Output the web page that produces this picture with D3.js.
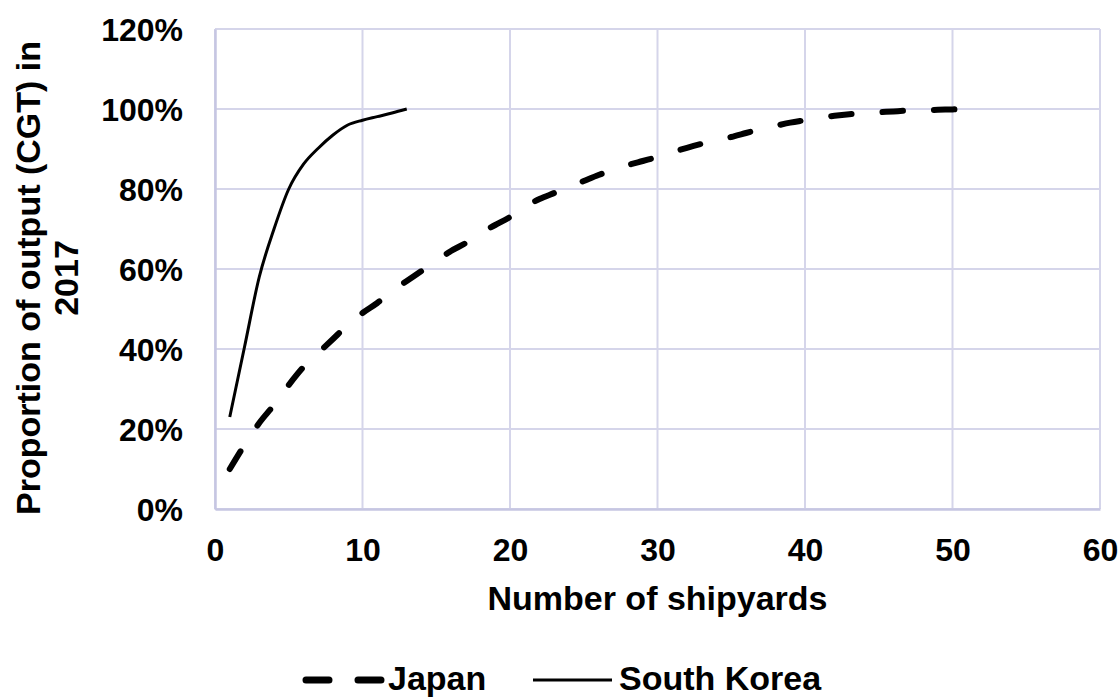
<!DOCTYPE html>
<html>
<head>
<meta charset="utf-8">
<script src="https://cdn.jsdelivr.net/npm/d3@7"></script>
<style>
  html, body { margin: 0; padding: 0; background: #ffffff; }
  svg { display: block; }
  text { font-family: "Liberation Sans", Arial, sans-serif; font-weight: bold; fill: #000; }
</style>
</head>
<body>
<svg id="chart" width="1120" height="697"></svg>
<script>
// ---- data ----
const koreaX = [1, 2, 3, 4, 5, 6, 7, 8, 9, 10, 11, 12, 13];
const koreaY = [0.23, 0.405, 0.58, 0.70, 0.80, 0.862, 0.902, 0.935, 0.96, 0.972, 0.981, 0.99, 1.00];

const japanX = [1, 2, 3, 4, 5, 6, 7, 8, 9, 10, 11, 12, 13, 14, 15, 16, 17, 18, 19, 20,
                21, 22, 23, 24, 25, 26, 27, 28, 29, 30, 31, 32, 33, 34, 35, 36, 37, 38, 39, 40,
                41, 42, 43, 44, 45, 46, 47, 48, 49, 50, 51];
const japanY = [0.10, 0.16, 0.215, 0.26, 0.31, 0.355, 0.39, 0.425, 0.46, 0.49, 0.515, 0.545, 0.57, 0.595, 0.62, 0.645, 0.665, 0.69, 0.71, 0.73,
                0.755, 0.775, 0.79, 0.805, 0.82, 0.835, 0.848, 0.86, 0.87, 0.88, 0.892, 0.903, 0.913, 0.922, 0.93, 0.94, 0.95, 0.958, 0.966, 0.972,
                0.978, 0.983, 0.987, 0.99, 0.992, 0.994, 0.996, 0.997, 0.998, 0.999, 1.00];

const xTicks = [0, 10, 20, 30, 40, 50, 60];
const yTicks = [0, 0.2, 0.4, 0.6, 0.8, 1.0, 1.2];
const seriesNames = ["Japan", "South Korea"];
const xTitle = "Number of shipyards";
const yTitleLines = ["Proportion of output (CGT) in", "2017"];

// ---- layout ----
const svg = d3.select("#chart");
const mLeft = 215, mRight = 1100, mTop = 29, mBottom = 509;
const x = d3.scaleLinear().domain([0, 60]).range([mLeft, mRight]);
const y = d3.scaleLinear().domain([0, 1.2]).range([mBottom, mTop]);
const gridColor = "#d5d5ea";

// grid
const grid = svg.append("g");
grid.selectAll("line.v").data(xTicks).join("line")
  .attr("x1", d => x(d)).attr("x2", d => x(d))
  .attr("y1", mTop).attr("y2", mBottom)
  .attr("stroke", gridColor).attr("stroke-width", 2);
grid.selectAll("line.h").data(yTicks).join("line")
  .attr("x1", mLeft).attr("x2", mRight)
  .attr("y1", d => y(d)).attr("y2", d => y(d))
  .attr("stroke", gridColor).attr("stroke-width", 2);

// axes (border lines)
const xAxis = d3.axisBottom(x).tickValues(xTicks).tickSize(0).tickPadding(0).tickFormat(d3.format("d"));
const gx = svg.append("g").attr("transform", `translate(0,${mBottom})`).call(xAxis);
gx.select(".domain").attr("stroke", "#c6c6e2").attr("stroke-width", 2.5);
gx.selectAll("text").attr("font-size", 32).attr("font-family", "Liberation Sans, Arial, sans-serif")
  .attr("font-weight", "bold").attr("fill", "#000").attr("dy", null).attr("y", 52);

const yAxis = d3.axisLeft(y).tickValues(yTicks).tickSize(0).tickPadding(32).tickFormat(d3.format(".0%"));
const gy = svg.append("g").attr("transform", `translate(${mLeft},0)`).call(yAxis);
gy.select(".domain").attr("stroke", "#c6c6e2").attr("stroke-width", 2.5);
gy.selectAll("text").attr("font-size", 32).attr("font-family", "Liberation Sans, Arial, sans-serif")
  .attr("font-weight", "bold").attr("fill", "#000").attr("dy", "0.36em");

// lines
const japanData = japanX.map((d, i) => [d, japanY[i]]);
const koreaData = koreaX.map((d, i) => [d, koreaY[i]]);
const line = d3.line().x(d => x(d[0])).y(d => y(d[1])).curve(d3.curveMonotoneX);

svg.append("path").datum(japanData).attr("d", line)
  .attr("fill", "none").attr("stroke", "#000").attr("stroke-width", 6)
  .attr("stroke-linecap", "round").attr("stroke-dasharray", "20.5,31");
svg.append("path").datum(koreaData).attr("d", line)
  .attr("fill", "none").attr("stroke", "#000").attr("stroke-width", 3)
  .attr("stroke-linecap", "butt");

// axis titles
svg.append("text").attr("x", (mLeft + mRight) / 2).attr("y", 610)
  .attr("text-anchor", "middle").attr("font-size", 34).text(xTitle);

const yt = svg.append("text").attr("transform", "translate(40,278) rotate(-90)")
  .attr("text-anchor", "middle").attr("font-size", 34);
yt.selectAll("tspan").data(yTitleLines).join("tspan")
  .attr("x", 0).attr("dy", (d, i) => i === 0 ? 0 : 38).text(d => d);

// legend
const lg = svg.append("g");
lg.append("line").attr("x1", 306).attr("x2", 381).attr("y1", 680).attr("y2", 680)
  .attr("stroke", "#000").attr("stroke-width", 7).attr("stroke-linecap", "round")
  .attr("stroke-dasharray", "23,29");
lg.append("text").attr("x", 388).attr("y", 690).attr("font-size", 34).text(seriesNames[0]);
lg.append("line").attr("x1", 533).attr("x2", 612).attr("y1", 680).attr("y2", 680)
  .attr("stroke", "#000").attr("stroke-width", 3);
lg.append("text").attr("x", 619).attr("y", 690).attr("font-size", 34).text(seriesNames[1]);
</script>
</body>
</html>
